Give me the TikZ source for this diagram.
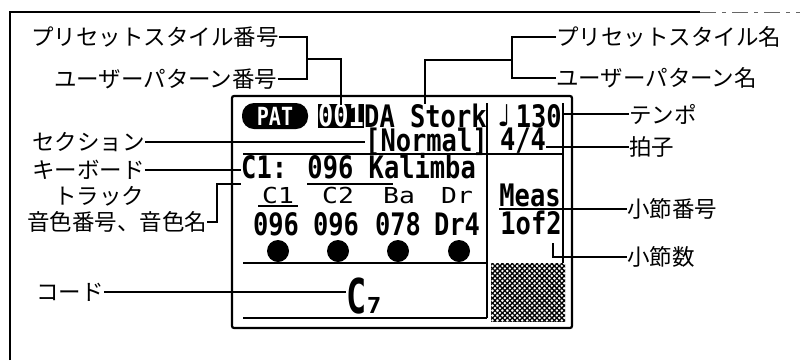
\documentclass[tikz,border=0pt]{standalone}
\usepackage{graphicx}
\usepackage{fontspec}
\newfontfamily\jp{Noto Sans CJK JP}
\newfontfamily\lcdf{DejaVu Sans Mono}
\newfontfamily\symf{DejaVu Sans}
\usetikzlibrary{patterns.meta}
\newcommand{\lcd}[1]{\scalebox{0.82}[1]{\lcdf\bfseries\fontsize{31}{31}\selectfont #1}}
\newcommand{\hdr}[1]{\scalebox{1.2}[1]{\lcdf\fontsize{22}{22}\selectfont #1}}
\begin{document}
\begin{tikzpicture}[x=1pt,y=-1pt,
  lab/.style={font=\jp\fontsize{22.5}{22.5}\selectfont, inner sep=0pt},
  con/.style={line width=1.3pt},
  frm/.style={line width=2.2pt},
  lcdt/.style={inner sep=0pt, text height=21pt, text depth=0pt},
  dot/.style={fill=black}]
\useasboundingbox (0,0) rectangle (800,360);
% page border
\draw[line width=1.2pt] (10,360) -- (10,12) -- (700,12);
\draw[line width=0.8pt, black!60, dash pattern=on 16pt off 6pt on 4pt off 6pt] (700,12) -- (800,12);
% LCD frame
\draw[line width=2.2pt, rounded corners=2pt] (232,96) rectangle (572,328);
\draw[frm] (243,154) -- (563,154);
\draw[frm] (487,103) -- (487,318);
\draw[frm] (563,103) -- (563,263);
\draw[frm] (243,263) -- (487,263);
\draw[frm] (243,318) -- (487,318);
% hatch
\fill[pattern={Lines[angle=45,distance=3.5pt,line width=1.3pt]}] (491,263) rectangle (565,321);
\fill[pattern={Lines[angle=-45,distance=3.5pt,line width=1.3pt]}] (491,263) rectangle (565,321);
% row 1
\fill[rounded corners=12pt] (242,103) rectangle (308,129);
\node[inner sep=0pt, text=white] (pat) at (275,116) {\scalebox{0.8}[1]{\lcdf\bfseries\fontsize{25}{25}\selectfont PAT}};
\fill (318,104) rectangle (364,128);
\node[lcdt, text=white, anchor=base] (num) at (341,126.5) {\lcd{001}};
\node[lcdt, anchor=base west] (name) at (364,127) {\lcd{DA Stork}};
\node[inner sep=0pt, anchor=base] (note) at (505,126) {\symf\fontsize{30}{30}\selectfont ♩};
\node[lcdt, anchor=base east] (tempoval) at (562,127) {\lcd{130}};
% row 2
\node[lcdt, anchor=base west] (sect) at (365,151) {\lcd{[Normal]}};
\node[lcdt, anchor=base] (meter) at (523,150) {\lcd{4/4}};
% row 3
\node[lcdt, anchor=base west] (voice) at (241,178) {\lcd{C1: 096 Kalimba}};
\draw[con] (307,184) -- (393,184);
% tracks
\node[inner sep=0pt, anchor=base] (h1) at (278,203) {\hdr{C1}};
\node[inner sep=0pt, anchor=base] (h2) at (338,203) {\hdr{C2}};
\node[inner sep=0pt, anchor=base] (h3) at (399,203) {\hdr{Ba}};
\node[inner sep=0pt, anchor=base] (h4) at (457,203) {\hdr{Dr}};
\draw[line width=2pt] (258,206) -- (298,206);
\node[lcdt, anchor=base] (v1) at (276,235) {\lcd{096}};
\node[lcdt, anchor=base] (v2) at (336,235) {\lcd{096}};
\node[lcdt, anchor=base] (v3) at (398,235) {\lcd{078}};
\node[lcdt, anchor=base] (v4) at (457,235) {\lcd{Dr4}};
\foreach \x in {278,338,398,459} {\fill[dot] (\x,251) circle[radius=11pt];}
% measure
\node[lcdt, anchor=base] (meas) at (530,206) {\lcd{Meas}};
\node[lcdt, anchor=base] (bars) at (531,234) {\lcd{1of2}};
% chord
\node[inner sep=0pt, anchor=base west] (chC) at (346,313) {\scalebox{0.7}[1]{\lcdf\bfseries\fontsize{48}{48}\selectfont C}};
\node[inner sep=0pt, anchor=base west] (ch7) at (chC.base east) {\scalebox{1.1}[1]{\lcdf\bfseries\fontsize{22}{22}\selectfont 7}};
% labels
\node[lab, anchor=west] (psn) at (31,37) {プリセットスタイル番号};
\node[lab, anchor=west] (upn) at (54,79) {ユーザーパターン番号};
\node[lab, anchor=west] (psname) at (556,37) {プリセットスタイル名};
\node[lab, anchor=west] (upname) at (556,78) {ユーザーパターン名};
\node[lab, anchor=west] (tempo) at (629,114) {テンポ};
\node[lab, anchor=west] (beat) at (629,147) {拍子};
\node[lab, anchor=west] (sec) at (32,142) {セクション};
\node[lab, anchor=west] (kbd) at (32,170) {キーボード};
\node[lab, anchor=west] (trk) at (54,196) {トラック};
\node[lab, anchor=west] (ton) at (27,222) {音色番号、音色名};
\node[lab, anchor=west] (chd) at (36,292) {コード};
\node[lab, anchor=west] (msn) at (627,209) {小節番号};
\node[lab, anchor=west] (msc) at (627,257) {小節数};
% connectors
\coordinate (j1) at (307,59);
\draw[con] (psn.east) -| (j1);
\draw[con] (upn.east) -| (j1);
\draw[con] (j1) -| (num.north);
\coordinate (j2) at (512,60);
\coordinate (sk) at (425,104);
\draw[con] (psname.west) -| (j2);
\draw[con] (upname.west) -| (j2);
\draw[con] (j2) -| (sk);
\draw[con] (tempo.west) -- (tempo.west -| tempoval.east);
\draw[con] (beat.west) -- (beat.west -| meter.east);
\draw[con] (sec.east) -- (sec.east -| sect.west);
\draw[con] (kbd.east) -- (kbd.east -| voice.west);
\coordinate (tk) at (217,184);
\draw[con] (ton.east) -| (tk) -- (tk -| voice.west);
\draw[con] (chd.east) -- (chd.east -| chC.west);
\draw[con] (msn.west) -- (msn.west -| meas.west);
\coordinate (mk) at (553,243);
\draw[con] (msc.west) -| (mk);
\end{tikzpicture}
\end{document}
